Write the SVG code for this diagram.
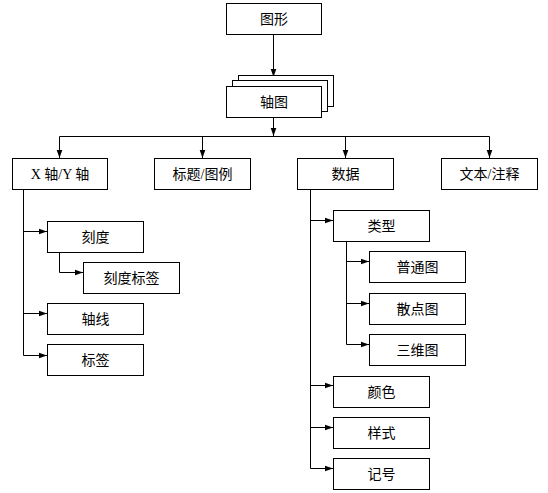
<svg xmlns="http://www.w3.org/2000/svg" width="548" height="493" viewBox="0 0 548 493">
<style>
.box{fill:#fff;stroke:#000;stroke-width:1}
.t{font-family:"Liberation Serif","Noto Sans CJK SC",serif;font-size:14px;fill:#000;text-anchor:middle;dominant-baseline:central}
.ln{fill:none;stroke:#000;stroke-width:1}
</style>
<defs>
<marker id="ah" viewBox="0 0 10 10" refX="10" refY="5" markerWidth="8" markerHeight="8" markerUnits="userSpaceOnUse" orient="auto">
<path d="M0,1.5 L10,5 L0,8.5 Z" fill="#000"/>
</marker>
</defs>
<rect width="548" height="493" fill="#fff"/>
<g id="connectors">
<path class="ln" d="M273.5,34 V77" marker-end="url(#ah)"/>
<path class="ln" d="M273.5,117 V136" marker-end="url(#ah)"/>
<path class="ln" d="M59.5,136.5 H489.5"/>
<path class="ln" d="M59.5,136.5 V158" marker-end="url(#ah)"/>
<path class="ln" d="M202.5,136.5 V158" marker-end="url(#ah)"/>
<path class="ln" d="M345.5,136.5 V158" marker-end="url(#ah)"/>
<path class="ln" d="M489.5,136.5 V158" marker-end="url(#ah)"/>
<path class="ln" d="M23.5,189 V355.5"/>
<path class="ln" d="M23.5,231.5 H47" marker-end="url(#ah)"/>
<path class="ln" d="M23.5,313.5 H47" marker-end="url(#ah)"/>
<path class="ln" d="M23.5,355.5 H47" marker-end="url(#ah)"/>
<path class="ln" d="M59.5,252 V272.5 H83" marker-end="url(#ah)"/>
<path class="ln" d="M310.5,189 V468.5"/>
<path class="ln" d="M310.5,220.5 H333" marker-end="url(#ah)"/>
<path class="ln" d="M310.5,385.5 H333" marker-end="url(#ah)"/>
<path class="ln" d="M310.5,427.5 H333" marker-end="url(#ah)"/>
<path class="ln" d="M310.5,468.5 H333" marker-end="url(#ah)"/>
<path class="ln" d="M346.5,241 V344.5"/>
<path class="ln" d="M346.5,261.5 H369" marker-end="url(#ah)"/>
<path class="ln" d="M346.5,303.5 H369" marker-end="url(#ah)"/>
<path class="ln" d="M346.5,344.5 H369" marker-end="url(#ah)"/>
</g>
<g id="n-tuxing"><rect class="box" x="226.5" y="3.5" width="95" height="31"/><text class="t" x="274" y="19">图形</text></g>
<g id="n-zhoutu">
<rect class="box" x="238.5" y="75.5" width="95" height="31"/>
<rect class="box" x="232.5" y="80.5" width="95" height="31"/>
<rect class="box" x="226.5" y="86.5" width="95" height="31"/>
<text class="t" x="274" y="102">轴图</text></g>
<g id="n-xy"><rect class="box" x="12.5" y="158.5" width="95" height="31"/><text class="t" x="60" y="174">X 轴/Y 轴</text></g>
<g id="n-title"><rect class="box" x="154.5" y="158.5" width="96" height="31"/><text class="t" x="202.5" y="174">标题/图例</text></g>
<g id="n-data"><rect class="box" x="297.5" y="158.5" width="96" height="31"/><text class="t" x="345.5" y="174">数据</text></g>
<g id="n-text"><rect class="box" x="441.5" y="158.5" width="96" height="31"/><text class="t" x="489.5" y="174">文本/注释</text></g>
<g id="n-kedu"><rect class="box" x="47.5" y="221.5" width="96" height="31"/><text class="t" x="95.5" y="237">刻度</text></g>
<g id="n-kedubq"><rect class="box" x="83.5" y="262.5" width="96" height="31"/><text class="t" x="131.5" y="278">刻度标签</text></g>
<g id="n-zhouxian"><rect class="box" x="47.5" y="303.5" width="96" height="31"/><text class="t" x="95.5" y="319">轴线</text></g>
<g id="n-biaoqian"><rect class="box" x="47.5" y="344.5" width="96" height="31"/><text class="t" x="95.5" y="360">标签</text></g>
<g id="n-leixing"><rect class="box" x="333.5" y="210.5" width="96" height="31"/><text class="t" x="381.5" y="226">类型</text></g>
<g id="n-putong"><rect class="box" x="369.5" y="251.5" width="96" height="31"/><text class="t" x="417.5" y="267">普通图</text></g>
<g id="n-sandian"><rect class="box" x="369.5" y="293.5" width="96" height="31"/><text class="t" x="417.5" y="309">散点图</text></g>
<g id="n-sanwei"><rect class="box" x="369.5" y="334.5" width="96" height="31"/><text class="t" x="417.5" y="350">三维图</text></g>
<g id="n-yanse"><rect class="box" x="333.5" y="376.5" width="96" height="31"/><text class="t" x="381.5" y="392">颜色</text></g>
<g id="n-yangshi"><rect class="box" x="333.5" y="417.5" width="96" height="31"/><text class="t" x="381.5" y="433">样式</text></g>
<g id="n-jihao"><rect class="box" x="333.5" y="458.5" width="96" height="31"/><text class="t" x="381.5" y="474">记号</text></g>
</svg>
